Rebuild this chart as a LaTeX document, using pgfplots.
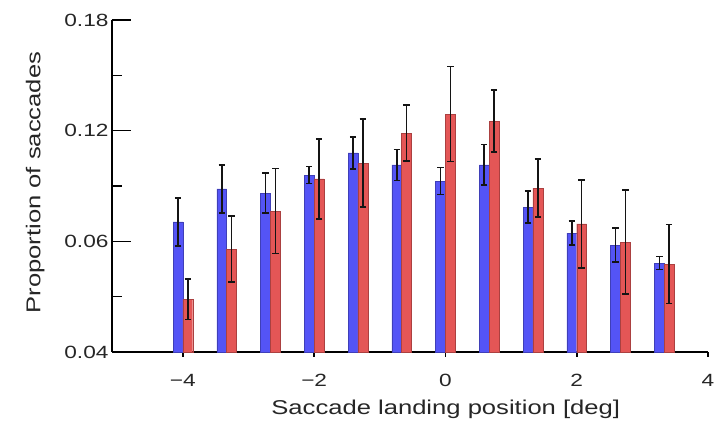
\documentclass[border=0pt]{standalone}
\usepackage{pgfplots}
\pgfplotsset{compat=1.18}
\usepackage{fontspec}
\setmainfont{Liberation Sans}[FakeStretch=1.28]
\definecolor{barblue}{RGB}{84,84,246}
\definecolor{barred}{RGB}{228,86,86}
\definecolor{errc}{RGB}{20,20,20}
\begin{document}
\begin{tikzpicture}
\begin{axis}[
  name=ax,
  scale only axis, width=596pt, height=332pt,
  xmin=-5.08, xmax=4, ymin=0, ymax=0.18,
  clip=false,
  axis x line*=bottom, axis y line*=left,
  axis line style={line width=1.7pt, black},
  xtick={-4,-2,0,2,4}, xticklabels={−4,−2,0,2,4},
  ytick={0,0.06,0.12,0.18}, yticklabels={0.04,0.06,0.12,0.18},
  minor ytick={0.03,0.09,0.15},
  tick align=inside,
  major tick length=19pt, minor tick length=10pt,
  xtick style={/pgfplots/major tick length=5pt},
  tick style={line width=1.6pt, black},
  /pgf/number format/assume math mode=true,
  tick label style={font=\fontsize{17.7}{20}\selectfont, text=black!85},
  label style={font=\fontsize{20}{24}\selectfont, text=black!85},
  ylabel={Proportion of saccades},
  xlabel={Saccade landing position [deg]},
  ylabel style={at={(axis description cs:-0.129,0.51)}, anchor=center},
  xlabel style={at={(axis description cs:0.56,-0.172)}, anchor=center},
  ybar, bar width=0.15,
  error bars/y dir=both, error bars/y explicit,
  error bars/error bar style={line width=1.6pt, errc},
  error bars/error mark options={rotate=90, mark size=3.2pt, line width=1.6pt, errc},
]
\addplot[fill=barblue, draw=barblue!75!black, line width=0.4pt, bar shift=-0.075,
  error bars/error bar style={line width=1.6pt, errc}]
  coordinates {
  (-4,0.0705) +- (0,0.013)
  (-3.3333,0.0884) +- (0,0.013)
  (-2.6667,0.0862) +- (0,0.011)
  (-2,0.0959) +- (0,0.0046)
  (-1.3333,0.1079) +- (0,0.0087)
  (-0.6667,0.1014) +- (0,0.0084)
  (0,0.0927) +- (0,0.0073)
  (0.6667,0.1014) +- (0,0.011)
  (1.3333,0.0786) +- (0,0.0087)
  (2,0.0645) +- (0,0.0065)
  (2.6667,0.058) +- (0,0.0092)
  (3.3333,0.0482) +- (0,0.0035)
  };
\addplot[fill=barred, draw=barred!75!black, line width=0.4pt, bar shift=0.075,
  error bars/error bar style={line width=1.6pt, errc}]
  coordinates {
  (-4,0.0287) +- (0,0.011)
  (-3.3333,0.0558) +- (0,0.018)
  (-2.6667,0.0764) +- (0,0.023)
  (-2,0.0938) +- (0,0.0217)
  (-1.3333,0.1024) +- (0,0.0239)
  (-0.6667,0.1187) +- (0,0.0152)
  (0,0.129) +- (0,0.0257)
  (0.6667,0.1252) +- (0,0.0168)
  (1.3333,0.0889) +- (0,0.0157)
  (2,0.0694) +- (0,0.0239)
  (2.6667,0.0596) +- (0,0.0282)
  (3.3333,0.0477) +- (0,0.0214)
  };
\end{axis}
\pgfresetboundingbox
\path (ax.south west) ++(-112pt,-73pt) rectangle ([xshift=10pt,yshift=20pt]ax.north east);
\end{tikzpicture}
\end{document}
